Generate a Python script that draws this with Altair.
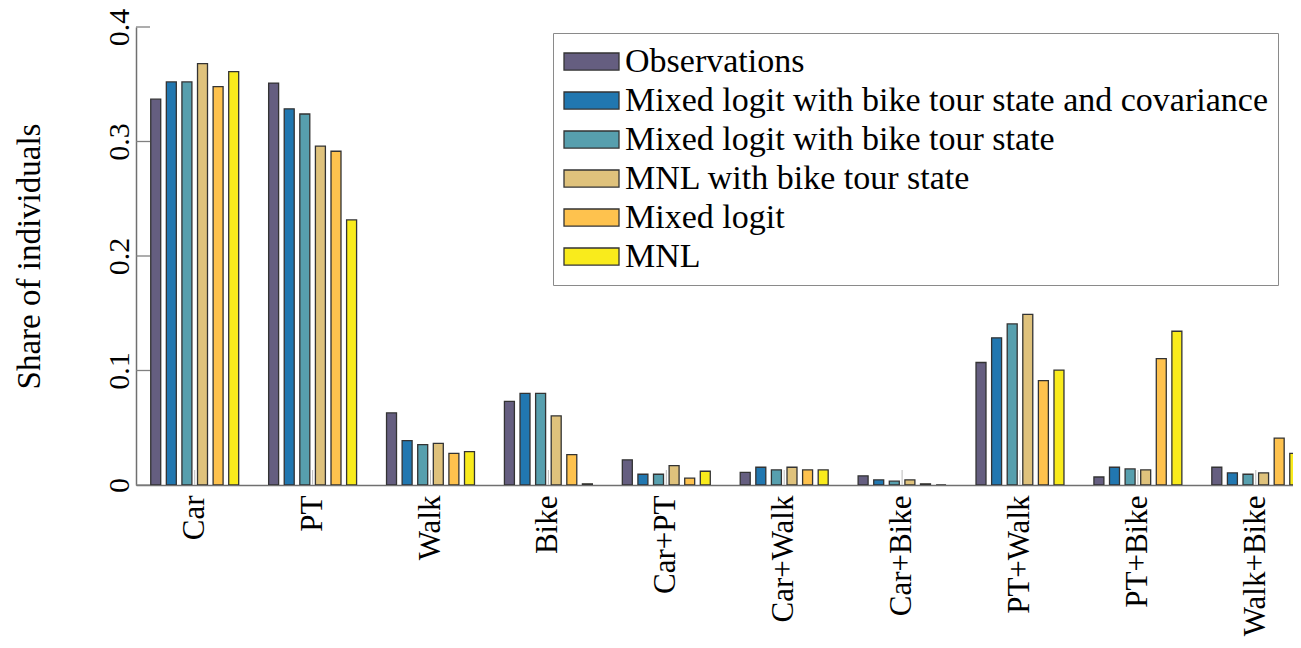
import altair as alt
import pandas as pd

categories = ["Car", "PT", "Walk", "Bike", "Car+PT", "Car+Walk", "Car+Bike",
              "PT+Walk", "PT+Bike", "Walk+Bike"]
series = ["Observations",
          "Mixed logit with bike tour state and covariance",
          "Mixed logit with bike tour state",
          "MNL with bike tour state",
          "Mixed logit",
          "MNL"]
colors = ["#655e80", "#2177b0", "#579fae", "#dfc27c", "#fec24e", "#f9eb1c"]

obs       = [0.337, 0.351, 0.063, 0.073, 0.022, 0.011, 0.008, 0.107, 0.007, 0.0155]
mixed_cov = [0.352, 0.3285, 0.0387, 0.080, 0.0094, 0.0155, 0.0045, 0.1285, 0.0155, 0.0106]
mixed_bts = [0.352, 0.324, 0.0352, 0.080, 0.0094, 0.0132, 0.0033, 0.1407, 0.014, 0.0094]
mnl_bts   = [0.368, 0.296, 0.0364, 0.0604, 0.017, 0.0155, 0.0045, 0.149, 0.0132, 0.0106]
mixed     = [0.348, 0.2915, 0.0277, 0.0265, 0.006, 0.0132, 0.001, 0.0911, 0.1103, 0.041]
mnl       = [0.361, 0.2315, 0.0291, 0.001, 0.012, 0.0132, 0.0, 0.1004, 0.1343, 0.0277]

y_ticks = [0, 0.1, 0.2, 0.3, 0.4]

values = [obs, mixed_cov, mixed_bts, mnl_bts, mixed, mnl]
rows = []
for s, vals in zip(series, values):
    for c, v in zip(categories, vals):
        rows.append({"category": c, "model": s, "share": v})
df = pd.DataFrame(rows)

FONT = "Liberation Serif"

x_scale = alt.Scale(domain=categories, range=[0, 1178.5],
                    paddingInner=0.254, paddingOuter=0.125)

bars = alt.Chart(df).mark_bar(stroke="#333333", strokeWidth=1.3, clip=True).encode(
    x=alt.X("category:N", sort=categories, scale=x_scale,
            axis=alt.Axis(title=None, labelAngle=270, labelAlign="right",
                          labelBaseline="middle", labelPadding=10,
                          labelFontSize=31, labelFont=FONT, labelColor="black",
                          ticks=False, domainColor="#707070", domainWidth=1.5,
                          labelLimit=400)),
    xOffset=alt.XOffset("model:N", sort=series,
                        scale=alt.Scale(domain=series, paddingInner=0.36, paddingOuter=0)),
    y=alt.Y("share:Q", scale=alt.Scale(domain=[0, 0.4], nice=False, zero=True),
            axis=alt.Axis(title="Share of individuals", values=y_ticks, format="~g",
                          labelAngle=270, labelAlign="center", labelBaseline="bottom",
                          labelPadding=2, labelFontSize=30, labelFont=FONT,
                          labelColor="black", ticks=False, grid=False,
                          domainColor="#707070", domainWidth=1.5,
                          titleFont=FONT, titleFontSize=33, titleFontWeight="normal",
                          titleColor="black", titlePadding=58)),
    color=alt.Color("model:N", sort=series,
                    scale=alt.Scale(domain=series, range=colors),
                    legend=alt.Legend(title=None, orient="none", legendX=417, legendY=6,
                                      symbolType="M-1,-0.31H1V0.31H-1Z", symbolSize=3025,
                                      clipHeight=37, rowPadding=2,
                                      symbolStrokeColor="#333333", symbolStrokeWidth=1.3,
                                      symbolOpacity=1,
                                      labelFont=FONT, labelFontSize=34, labelColor="black",
                                      labelOffset=5, labelLimit=900, padding=10,
                                      strokeColor="#8a8a8a", fillColor="white")),
)

ytick_df = pd.DataFrame({"share": y_ticks})
yticks = alt.Chart(ytick_df).mark_rule(color="#808080", strokeWidth=1.3).encode(
    y=alt.Y("share:Q"),
    x=alt.value(0),
    x2=alt.value(14),
)

xtick_df = pd.DataFrame({"category": categories})
xticks = alt.Chart(xtick_df).mark_rule(color="#bbbbbb", strokeWidth=1).encode(
    x=alt.X("category:N", sort=categories, scale=x_scale),
    y=alt.value(443),
    y2=alt.value(458),
)

chart = alt.layer(xticks, yticks, bars).properties(
    width=1157, height=458,
    autosize="none",
    padding={"left": 128, "top": 19, "right": 0, "bottom": 155},
).configure(font=FONT).configure_view(stroke=None).configure_legend(
    labelFont=FONT
).configure_axis(labelFont=FONT, titleFont=FONT)

chart.save("out.html", embed_options={"renderer": "svg", "actions": False})
